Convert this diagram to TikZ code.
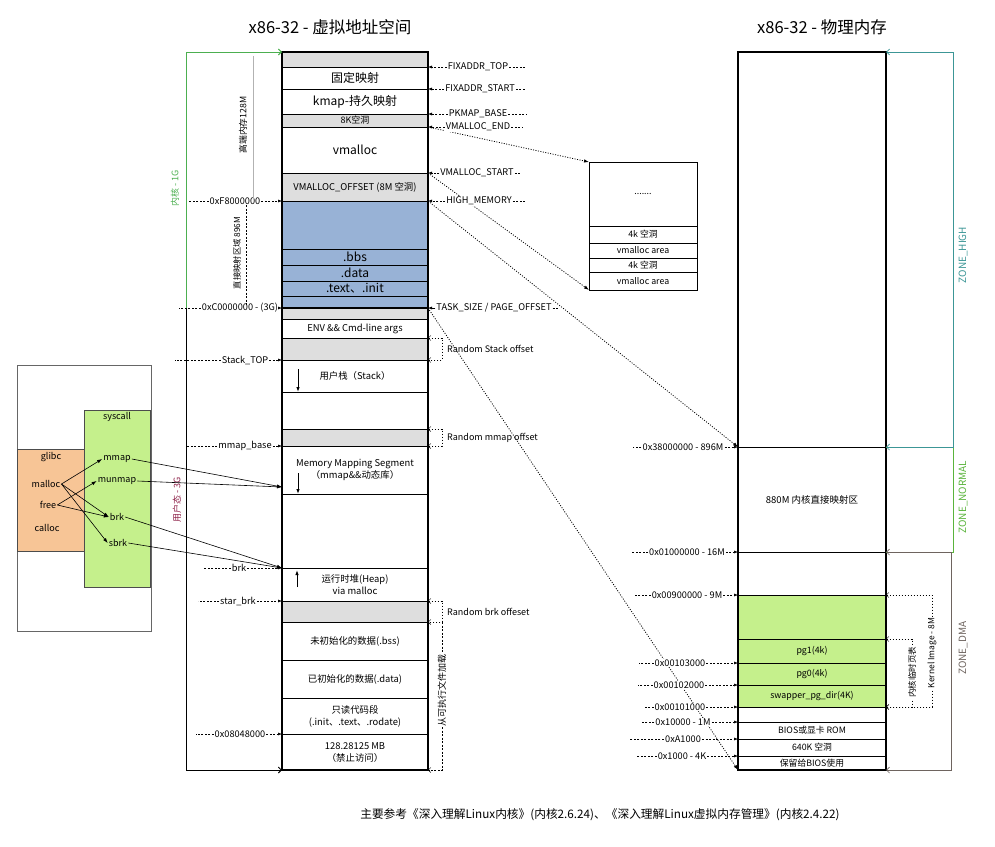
\documentclass[tikz,border=0pt]{standalone}
\usepackage{fontspec}
\setmainfont{Noto Sans CJK SC}
\usepackage{tikz}
\usetikzlibrary{arrows.meta}
\definecolor{grayband}{RGB}{222,222,222}
\definecolor{blueband}{RGB}{152,178,214}
\definecolor{limeband}{RGB}{197,240,140}
\definecolor{peach}{RGB}{247,197,150}
\definecolor{kgreen}{RGB}{76,175,80}
\definecolor{umaroon}{RGB}{140,30,70}
\definecolor{zteal}{RGB}{60,150,150}
\definecolor{zgreen}{RGB}{90,180,60}
\definecolor{zdma}{RGB}{110,100,95}

\begin{document}
\begin{tikzpicture}[x=1pt, y=-1pt,
    vrow/.style={draw, line width=0.8pt, minimum width=146pt, inner sep=0pt, outer sep=0pt, align=center, font=\fontsize{9.4}{12}\selectfont},
    prow/.style={vrow, minimum width=148pt, font=\fontsize{8.8}{10}\selectfont},
    srow/.style={draw, line width=0.6pt, minimum width=108pt, inner sep=0pt, outer sep=0pt, font=\fontsize{8.8}{9}\selectfont},
    big/.style={font=\fontsize{12}{14}\selectfont},
    addr/.style={fill=white, inner sep=1pt, font=\fontsize{9.2}{10}\selectfont},
    side/.style={inner sep=1pt, font=\fontsize{9}{10}\selectfont},
    ptr/.style={dash pattern=on 2pt off 1.5pt, line width=0.5pt, -{Latex[length=4pt,width=3pt]}},
    tail/.style={dash pattern=on 2pt off 1.5pt, line width=0.5pt},
    far/.style={dash pattern=on 1pt off 1.5pt, line width=0.8pt, -{Latex[length=5pt,width=3.5pt]}},
    offs/.style={dash pattern=on 1.5pt off 1.5pt, line width=0.5pt, {Straight Barb[length=2.5pt]}-{Straight Barb[length=2.5pt]}},
    call/.style={line width=0.6pt, -{Latex[length=5pt,width=3.5pt]}},
    updown/.style={line width=0.9pt, -{Latex[length=5pt,width=3.5pt]}}]
    \useasboundingbox (0,0) rectangle (995,846);

    % Titres
    \node[font=\fontsize{16.5}{18}\selectfont] (vtitle) at (330,27) {x86-32 - 虚拟地址空间};
    \node[font=\fontsize{16.5}{18}\selectfont] (ptitle) at (822,27) {x86-32 - 物理内存};

    % Espace virtuel : noyau
    \node[vrow, fill=grayband, minimum height=15pt] (vtop) at (355,59.5) {};
    \node[vrow, big, minimum height=22pt] (fixmap) at (355,78) {固定映射};
    \node[vrow, big, minimum height=25pt] (kmap) at (355,101.5) {kmap-持久映射};
    \node[vrow, fill=grayband, minimum height=13pt, font=\fontsize{9}{9}\selectfont] (hole8k) at (355,120.5) {8K空洞};
    \node[vrow, big, minimum height=46pt] (vmalloc) at (355,150) {vmalloc};
    \node[vrow, fill=grayband, minimum height=28pt] (voffset) at (355,187) {VMALLOC\_OFFSET (8M 空洞)};
    \node[vrow, fill=blueband, minimum height=48pt] (direct) at (355,225) {};
    \node[vrow, big, fill=blueband, minimum height=16pt] (kbss) at (355,257) {.bbs};
    \node[vrow, big, fill=blueband, minimum height=16pt] (kdata) at (355,273) {.data};
    \node[vrow, big, fill=blueband, minimum height=15pt] (ktext) at (355,288.5) {.text、.init};
    \node[vrow, fill=blueband, minimum height=12pt] (kend) at (355,302) {};

    % Espace virtuel : utilisateur
    \node[vrow, fill=grayband, minimum height=11pt] (gap1) at (355,313.5) {};
    \node[vrow, minimum height=19pt] (envarg) at (355,328.5) {ENV \&\& Cmd-line args};
    \node[vrow, fill=grayband, minimum height=22pt] (gap2) at (355,349) {};
    \node[vrow, minimum height=32pt] (ustack) at (355,376) {用户栈（Stack）};
    \node[vrow, minimum height=37pt] (free1) at (355,410.5) {};
    \node[vrow, fill=grayband, minimum height=17pt] (gap3) at (355,437.5) {};
    \node[vrow, minimum height=48pt] (mmseg) at (355,470) {Memory Mapping Segment\\（mmap\&\&动态库）};
    \node[vrow, minimum height=74pt] (free2) at (355,531) {};
    \node[vrow, minimum height=33pt] (heap) at (355,584.5) {运行时堆(Heap)\\via malloc};
    \node[vrow, fill=grayband, minimum height=21pt] (gap4) at (355,611.5) {};
    \node[vrow, minimum height=38pt] (ubss) at (355,641) {未初始化的数据(.bss)};
    \node[vrow, minimum height=38pt] (udata) at (355,679) {已初始化的数据(.data)};
    \node[vrow, minimum height=36pt] (utext) at (355,716) {只读代码段\\(.init、.text、.rodate)};
    \node[vrow, minimum height=36pt] (forbid) at (355,752) {128.28125 MB\\（禁止访问）};
    \draw[line width=1.2pt] (vtop.north west) rectangle (forbid.south east);
    \draw[line width=1.2pt] (kend.south west) -- (kend.south east);

    % Sens de croissance
    \draw[updown] ([xshift=16pt,yshift=-9pt]ustack.north west) -- ([xshift=16pt]ustack.south west);
    \draw[updown] ([xshift=16pt,yshift=-27pt]mmseg.north west) -- ([xshift=16pt]mmseg.south west);
    \draw[updown] ([xshift=15pt,yshift=-19pt]heap.north west) -- ([xshift=15pt,yshift=-2pt]heap.north west);

    % Zone vmalloc
    \node[srow, minimum height=64pt] (sdots) at (643,194) {.......};
    \node[srow, minimum height=17pt] (shole1) at (643,234.5) {4k 空洞};
    \node[srow, minimum height=15pt] (sarea1) at (643,250.5) {vmalloc area};
    \node[srow, minimum height=14pt] (shole2) at (643,265) {4k 空洞};
    \node[srow, minimum height=18pt] (sarea2) at (643,281) {vmalloc area};
    \draw[line width=1pt] (sdots.north west) rectangle (sarea2.south east);

    % Memoire physique
    \node[prow, minimum height=395pt] (phigh) at (812,249.5) {};
    \node[prow, minimum height=105pt, font=\fontsize{9.5}{11}\selectfont] (pnormal) at (812,499.5) {880M 内核直接映射区};
    \node[prow, minimum height=43pt] (pdma1) at (812,573.5) {};
    \node[prow, fill=limeband, minimum height=44pt] (pkimg) at (812,617) {};
    \node[prow, fill=limeband, minimum height=24pt] (ppg1) at (812,651) {pg1(4k)};
    \node[prow, fill=limeband, minimum height=22pt] (ppg0) at (812,674) {pg0(4k)};
    \node[prow, fill=limeband, minimum height=22pt] (pswap) at (812,696) {swapper\_pg\_dir(4K)};
    \node[prow, minimum height=15pt] (plow) at (812,714.5) {};
    \node[prow, minimum height=17pt] (pbios) at (812,730.5) {BIOS或显卡 ROM};
    \node[prow, minimum height=17pt] (phole) at (812,747.5) {640K 空洞};
    \node[prow, minimum height=14pt] (preserve) at (812,763) {保留给BIOS使用};
    \draw[line width=1.2pt] (phigh.north west) rectangle (preserve.south east);

    % Correspondances
    \draw[far] (vmalloc.north east) -- (sdots.north west);
    \draw[far] (voffset.north east) -- (sarea2.south west);
    \draw[far] (direct.north east) -- (pnormal.north west);
    \draw[far] (kend.south east) -- (preserve.south west);

    % Adresses a droite
    \node[addr] (afixtop) at (478,67) {FIXADDR\_TOP};
    \draw[ptr] (afixtop) -- (fixmap.north east);
    \draw[tail] (afixtop.east) -- ++(16,0);
    \node[addr] (afixstart) at (480,89) {FIXADDR\_START};
    \draw[ptr] (afixstart) -- (kmap.north east);
    \draw[tail] (afixstart.east) -- ++(10,0);
    \node[addr] (apkmap) at (478,114) {PKMAP\_BASE};
    \draw[ptr] (apkmap) -- (hole8k.north east);
    \draw[tail] (apkmap.east) -- ++(18,0);
    \node[addr] (avend) at (478,127) {VMALLOC\_END};
    \draw[ptr] (avend) -- (vmalloc.north east);
    \draw[tail] (avend.east) -- ++(12,0);
    \node[addr] (avstart) at (477,173) {VMALLOC\_START};
    \draw[ptr] (avstart) -- (voffset.north east);
    \draw[tail] (avstart.east) -- ++(6,0);
    \node[addr] (ahigh) at (479,201) {HIGH\_MEMORY};
    \draw[ptr] (ahigh) -- (direct.north east);
    \draw[tail] (ahigh.east) -- ++(12,0);
    \node[addr] (atask) at (494,308) {TASK\_SIZE / PAGE\_OFFSET};
    \draw[ptr] (atask) -- (kend.south east);
    \draw[tail] (atask.east) -- ++(6,0);

    % Adresses a gauche
    \node[addr] (aF8) at (235,201) {0xF8000000};
    \draw[ptr] (aF8) -- (direct.north west);
    \draw[tail] (aF8.west) -- ++(-20,0);
    \node[addr] (aC0) at (240,308) {0xC0000000 - (3G)};
    \draw[ptr] (aC0) -- (kend.south west);
    \draw[tail] (aC0.west) -- ++(-22,0);
    \node[addr] (astack) at (245,360) {Stack\_TOP};
    \draw[ptr] (astack) -- (ustack.north west);
    \draw[tail] (astack.west) -- ++(-46,0);
    \node[addr] (ammap) at (245,446) {mmap\_base};
    \draw[ptr] (ammap) -- (mmseg.north west);
    \draw[tail] (ammap.west) -- ++(-30,0);
    \node[addr] (abrk) at (239,568) {brk};
    \draw[ptr] (abrk) -- (heap.north west);
    \draw[tail] (abrk.west) -- ++(-27,0);
    \node[addr] (astart) at (238,601) {star\_brk};
    \draw[ptr] (astart) -- (heap.south west);
    \draw[tail] (astart.west) -- ++(-21,0);
    \node[addr] (a0804) at (240,734) {0x08048000};
    \draw[ptr] (a0804) -- (forbid.north west);
    \draw[tail] (a0804.west) -- ++(-18,0);

    % Decalages aleatoires
    \draw[offs] (envarg.south east) -- ++(14,0) |- (ustack.north east);
    \node[side, anchor=west] (rstack) at (446,349) {Random Stack offset};
    \draw[offs] (free1.south east) -- ++(14,0) |- (mmseg.north east);
    \node[side, anchor=west] (rmmap) at (446,437.5) {Random mmap offset};
    \draw[offs] (heap.south east) -- ++(14,0) |- (ubss.north east);
    \node[side, anchor=west] (rbrk) at (446,611.5) {Random brk offeset};
    \draw[tail, -{Straight Barb[length=2.5pt]}] ([xshift=14pt]ubss.north east) |- (forbid.south east);
    \node[side, rotate=90, fill=white] (loadexe) at (442,690) {从可执行文件加载};

    % Noyau / utilisateur
    \coordinate (kbase) at (186,308);
    \draw[kgreen, line width=0.9pt, -{Straight Barb[length=3pt]}] (kbase) |- (vtop.north west);
    \draw[line width=0.9pt, -{Straight Barb[length=3pt]}] (kbase) |- (forbid.south west);
    \node[rotate=90, text=kgreen, font=\fontsize{9}{10}\selectfont] (klabel) at (175,188) {内核 - 1G};
    \node[rotate=90, text=umaroon, font=\fontsize{9}{10}\selectfont] (ulabel) at (177,500) {用户态 - 3G};
    \draw[gray!60, line width=0.5pt] (253,56) -- (253,199);
    \node[rotate=90, font=\fontsize{8.8}{10}\selectfont] (hmem) at (243,125) {高端内存128M};
    \draw[tail] (246,205) -- (246,305);
    \node[rotate=90, font=\fontsize{8.3}{9}\selectfont] (dmem) at (237,253) {直接映射区域 896M};

    % Adresses physiques
    \node[addr] (p38) at (683,447) {0x38000000 - 896M};
    \draw[ptr] (p38) -- (pnormal.north west);
    \draw[tail] (p38.west) -- ++(-8,0);
    \node[addr] (p16) at (687,552) {0x01000000 - 16M};
    \draw[ptr] (p16) -- (pdma1.north west);
    \draw[tail] (p16.west) -- ++(-16,0);
    \node[addr] (p9) at (687,595) {0x00900000 - 9M};
    \draw[ptr] (p9) -- (pkimg.north west);
    \draw[tail] (p9.west) -- ++(-17,0);
    \node[addr] (p103) at (680,663) {0x00103000};
    \draw[ptr] (p103) -- (ppg0.north west);
    \draw[tail] (p103.west) -- ++(-15,0);
    \node[addr] (p102) at (679,685) {0x00102000};
    \draw[ptr] (p102) -- (pswap.north west);
    \draw[tail] (p102.west) -- ++(-15,0);
    \node[addr] (p101) at (680,707) {0x00101000};
    \draw[ptr] (p101) -- (pswap.south west);
    \draw[tail] (p101.west) -- ++(-10,0);
    \node[addr] (p1m) at (683,722) {0x10000 - 1M};
    \draw[ptr] (p1m) -- (pbios.north west);
    \draw[tail] (p1m.west) -- ++(-12,0);
    \node[addr] (pa1) at (683,739) {0xA1000};
    \draw[ptr] (pa1) -- (phole.north west);
    \draw[tail] (pa1.west) -- ++(-34,0);
    \node[addr] (p4k) at (682,756) {0x1000 - 4K};
    \draw[ptr] (p4k) -- (preserve.north west);
    \draw[tail] (p4k.west) -- ++(-20,0);

    % Zones
    \draw[zgreen, line width=0.7pt] (pnormal.north east) -- ++(67,0) |- (pnormal.south east);
    \draw[zteal, line width=0.7pt, {Straight Barb[length=3pt]}-{Straight Barb[length=3pt]}] (phigh.north east) -- ++(67,0) |- (phigh.south east);
    \draw[zdma, line width=0.7pt, {Straight Barb[length=3pt]}-{Straight Barb[length=3pt]}] (pdma1.north east) -- ++(65,0) |- (preserve.south east);
    \node[rotate=90, text=zteal, font=\fontsize{10}{11}\selectfont] (zhigh) at (963,255) {ZONE\_HIGH};
    \node[rotate=90, text=zgreen, font=\fontsize{10}{11}\selectfont] (znormal) at (963,497) {ZONE\_NORMAL};
    \node[rotate=90, text=zdma, font=\fontsize{10}{11}\selectfont] (zdmal) at (963,648) {ZONE\_DMA};

    % Image noyau
    \draw[offs] (pkimg.north east) -- ++(46,0) |- (pswap.south east);
    \node[side, rotate=90, fill=white, font=\fontsize{8.5}{9}\selectfont] (kimg) at (932,653) {Kernel Image - 8M};
    \draw[offs] (ppg1.north east) -- ++(26,0) |- (pswap.south east);
    \node[side, rotate=90, fill=white, font=\fontsize{8.5}{9}\selectfont] (ktmp) at (912,672) {内核临时页表};

    % glibc et syscall
    \node[draw=black!60, line width=0.7pt, minimum width=134pt, minimum height=266pt, inner sep=0pt, outer sep=0pt] (libbox) at (84,498) {};
    \node[draw=black!70, fill=peach, minimum width=67pt, minimum height=102pt, inner sep=0pt, outer sep=0pt] (glibc) at (50.5,500) {};
    \node[draw=black!70, fill=limeband, minimum width=66pt, minimum height=177pt, inner sep=0pt, outer sep=0pt] (syscall) at (117,498.5) {};
    \node[side] (tglibc) at (51,457) {glibc};
    \node[side] (tmalloc) at (46,484) {malloc};
    \node[side] (tfree) at (48,505) {free};
    \node[side] (tcalloc) at (47,528) {calloc};
    \node[side] (tsyscall) at (117,417) {syscall};
    \node[side] (cmmap) at (117,459) {mmap};
    \node[side] (cmunmap) at (117,481) {munmap};
    \node[side] (cbrk) at (117,517) {brk};
    \node[side] (csbrk) at (118,543) {sbrk};
    \draw[call] (tmalloc.east) -- (cmmap.west);
    \draw[call] (tmalloc.east) -- (cbrk.west);
    \draw[call] (tmalloc.east) -- (csbrk.west);
    \draw[call] (tfree.east) -- (cmunmap.west);
    \draw[call] (tfree.east) -- (cbrk.west);
    \coordinate (mmhit) at (282,487);
    \draw[call] (cmmap.east) -- (mmhit);
    \draw[call] (cmunmap.east) -- (mmhit);
    \draw[call] (cbrk.east) -- (heap.north west);
    \draw[call] (csbrk.east) -- (heap.north west);

    % Reference
    \node[font=\fontsize{11.7}{13}\selectfont] (refs) at (600,815) {主要参考《深入理解Linux内核》(内核2.6.24)、《深入理解Linux虚拟内存管理》(内核2.4.22)};
\end{tikzpicture}
\end{document}
